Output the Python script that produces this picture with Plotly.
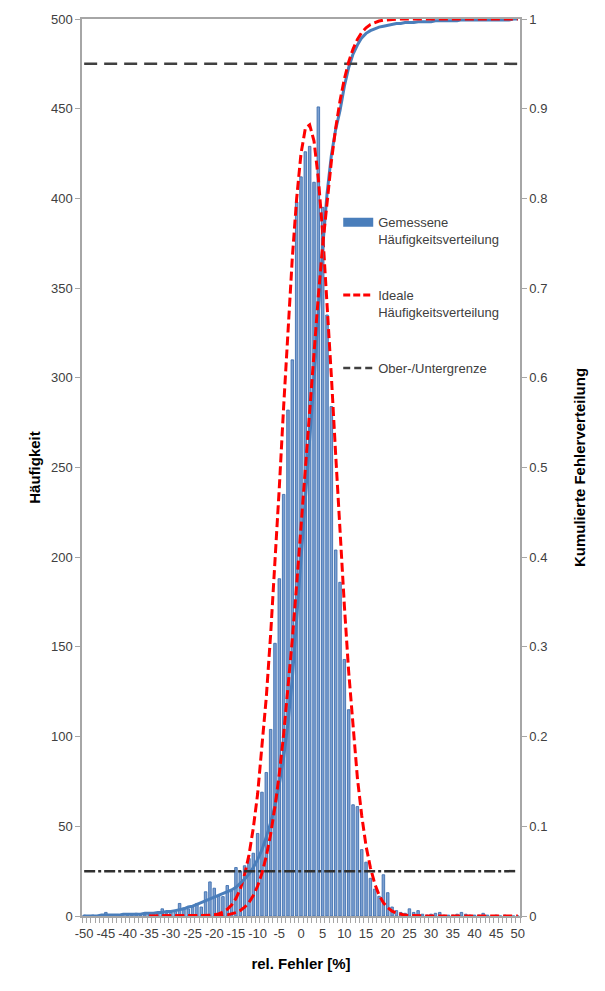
import plotly.graph_objects as go

# ---- data -------------------------------------------------------------
categories = list(range(-50, 51))

# measured frequency (Gemessene Häufigkeitsverteilung), one bar per 1 %
measured = [
    0.5, 0, 0.5, 0, 0.5, 2, 0.5, 0, 0.5, 0,            # -50 .. -41
    0.5, 0.5, 1.5, 0.5, 1, 1, 1, 1.5, 4, 1.5,          # -40 .. -31
    2, 2.5, 7, 4.5, 4, 5, 7, 5, 13.5, 19,              # -30 .. -21
    15.5, 11, 10.8, 17, 14, 27, 25, 28, 32, 35,        # -20 .. -11
    46, 69, 80, 104, 152, 188, 235, 282, 310, 398,     # -10 .. -1
    412, 426, 429, 409, 451, 395, 335, 284, 204, 186,  #   0 .. 9
    143, 115, 62, 61, 37, 30, 21, 15, 11, 23,          #  10 .. 19
    13, 5, 3, 2, 1.5, 4, 2, 3, 1, 0.5,                 #  20 .. 29
    1, 1.5, 2, 0.5, 0.5, 0.5, 1, 2, 1, 0.5,            #  30 .. 39
    0.5, 0.5, 1.5, 0.5, 0, 0.5, 0, 0.5, 0, 0, 0,       #  40 .. 50
]

# ideal frequency (Ideale Häufigkeitsverteilung), drawn from -35 on
ideal = [None] * 15 + [
    0, 0, 0, 0, 0, 0, 0, 0, 0, 0.05,                   # -35 .. -26
    0.05, 0.1, 0.15, 0.2, 0.35, 0.7, 1.2, 2.2, 3.7, 6.1,   # -25 .. -16
    9.8, 15, 23, 34, 49, 68, 93, 122, 157, 197,        # -15 .. -6
    239, 284, 327, 367, 400, 425, 439, 441, 432, 411,  # -5 .. 4
    381, 343, 301, 257, 213, 173, 136, 104, 77, 56,    # 5 .. 14
    39, 27, 18, 11.7, 7.4, 4.6, 2.7, 1.6, 0.9, 0.5,    # 15 .. 24
    0.25, 0.1, 0, 0, 0, 0, 0, 0, 0, 0,                 # 25 .. 34
    0, 0, 0, 0, 0, 0, 0, 0, 0, 0,                      # 35 .. 44
    0, 0, 0, 0, 0, 0,                                  # 45 .. 50
]

# measured cumulative distribution (right axis)
cum_measured = [
    0.000, 0.000, 0.000, 0.000, 0.001, 0.001, 0.001, 0.001, 0.001, 0.002,  # -50 .. -41
    0.002, 0.002, 0.002, 0.002, 0.003, 0.003, 0.003, 0.004, 0.004, 0.005,  # -40 .. -31
    0.005, 0.006, 0.007, 0.008, 0.010, 0.011, 0.013, 0.015, 0.017, 0.019,  # -30 .. -21
    0.021, 0.023, 0.025, 0.027, 0.029, 0.032, 0.036, 0.041, 0.047, 0.054,  # -20 .. -11
    0.063, 0.074, 0.088, 0.104, 0.123, 0.147, 0.177, 0.215, 0.265, 0.330,  # -10 .. -1
    0.400, 0.466, 0.530, 0.598, 0.672, 0.745, 0.805, 0.848, 0.877, 0.898,  #   0 .. 9
    0.925, 0.946, 0.961, 0.971, 0.979, 0.984, 0.987, 0.989, 0.991, 0.992,  #  10 .. 19
    0.993, 0.994, 0.995, 0.995, 0.996, 0.996, 0.996, 0.997, 0.997, 0.997,  #  20 .. 29
    0.997, 0.998, 0.998, 0.998, 0.998, 0.998, 0.998, 0.999, 0.999, 0.999,  #  30 .. 39
    0.999, 0.999, 0.999, 0.999, 0.999, 0.999, 0.999, 0.999, 0.999, 1.0, 1.0,  # 40 .. 50
]

# ideal cumulative distribution (right axis), drawn from -35 on
cum_ideal = [None] * 15 + [
    0, 0, 0, 0, 0, 0, 0, 0, 0, 0,                              # -35 .. -26
    0, 0, 0, 0, 0.0001, 0.0002, 0.0004, 0.0008, 0.0013, 0.0023,  # -25 .. -16
    0.0038, 0.0062, 0.0098, 0.0151, 0.0228, 0.0334, 0.0478, 0.0668, 0.0912, 0.1217,  # -15 .. -6
    0.1587, 0.2023, 0.2525, 0.3085, 0.3694, 0.4338, 0.5, 0.5662, 0.6306, 0.6915,     # -5 .. 4
    0.7475, 0.7977, 0.8413, 0.8783, 0.9088, 0.9332, 0.9522, 0.9666, 0.9772, 0.9849,  # 5 .. 14
    0.9902, 0.9938, 0.9962, 0.9977, 0.9987, 0.9992, 0.9996, 0.9998, 1, 1,            # 15 .. 24
    1, 1, 1, 1, 1, 1, 1, 1, 1, 1,                              # 25 .. 34
    1, 1, 1, 1, 1, 1, 1, 1, 1, 1,                              # 35 .. 44
    1, 1, 1, 1, 1, 1,                                          # 45 .. 50
]

upper_limit = 0.95   # Obergrenze (cumulative)
lower_limit = 0.05   # Untergrenze (cumulative)

x_tick_labels = list(range(-50, 51, 5))
y_left_ticks = list(range(0, 501, 50))
y_right_ticks = [0, 0.1, 0.2, 0.3, 0.4, 0.5, 0.6, 0.7, 0.8, 0.9, 1]

# ---- figure -----------------------------------------------------------
BLUE = "#4a7ebb"
RED = "#ff0000"
GREY = "#404040"
FONT = "Liberation Sans"

fig = go.Figure()

fig.add_trace(go.Bar(
    x=categories, y=measured, yaxis="y",
    marker=dict(color="#7c9fd0", line=dict(color="#3f70b0", width=0.9)),
    showlegend=False, hoverinfo="x+y",
))

fig.add_trace(go.Scatter(
    x=categories, y=cum_measured, yaxis="y2", mode="lines",
    line=dict(color=BLUE, width=3), showlegend=False,
))

fig.add_trace(go.Scatter(
    x=categories, y=[lower_limit] * len(categories), yaxis="y2", mode="lines",
    line=dict(color="#303030", width=2.5, dash="11px,3px,3px,3px"),
    showlegend=False,
))

fig.add_trace(go.Scatter(
    x=categories, y=[upper_limit] * len(categories), yaxis="y2", mode="lines",
    line=dict(color=GREY, width=2.5, dash="13px,7px"),
    showlegend=False,
))

fig.add_trace(go.Scatter(
    x=categories, y=cum_ideal, yaxis="y2", mode="lines",
    line=dict(color=RED, width=3, dash="9px,4px"), showlegend=False,
))

fig.add_trace(go.Scatter(
    x=categories, y=ideal, yaxis="y", mode="lines",
    line=dict(color=RED, width=3, dash="9px,4px"), showlegend=False,
))

# legend entries
fig.add_trace(go.Scatter(
    x=[None], y=[None], mode="lines", line=dict(color=BLUE, width=9),
    name="Gemessene<br>Häufigkeitsverteilung", legendgroup="a",
))
fig.add_trace(go.Scatter(
    x=[None], y=[None], mode="lines", line=dict(color=RED, width=3, dash="7px,3px"),
    name="Ideale<br>Häufigkeitsverteilung", legendgroup="b",
))
fig.add_trace(go.Scatter(
    x=[None], y=[None], mode="lines", line=dict(color=GREY, width=2.5, dash="7px,4px"),
    name="Ober-/Untergrenze", legendgroup="c",
))

axis_font = dict(family=FONT, size=13, color="#404040")
title_font = dict(family=FONT, size=15, color="#000000")

fig.update_layout(
    width=605, height=991,
    margin=dict(l=82, r=85, t=19, b=75),
    paper_bgcolor="white", plot_bgcolor="white",
    bargap=0.42,
    font=dict(family=FONT, size=13, color="#404040"),
    xaxis=dict(
        range=[-50.5, 50.5], tickmode="array", tickvals=x_tick_labels,
        ticktext=[str(v) for v in x_tick_labels],
        ticks="outside", ticklen=5, tickcolor="rgba(0,0,0,0)",
        minor=dict(tickmode="linear", tick0=0.5, dtick=1, ticks="outside",
                   ticklen=5, tickcolor="#a6a6a6", showgrid=False),
        showline=True, linecolor="#a6a6a6", linewidth=1.5, mirror=True,
        showgrid=False, zeroline=False, tickfont=axis_font,
        title=dict(text="<b>rel. Fehler [%]</b>", font=title_font, standoff=18),
    ),
    yaxis=dict(
        range=[0, 500], tickvals=y_left_ticks, ticks="outside", ticklen=5,
        tickcolor="#a6a6a6", showline=True, linecolor="#a6a6a6", linewidth=1.5,
        showgrid=False, zeroline=False, tickfont=axis_font,
        title=dict(text="<b>Häufigkeit</b>", font=title_font, standoff=7),
    ),
    yaxis2=dict(
        range=[0, 1], overlaying="y", side="right", tickvals=y_right_ticks,
        ticktext=[f"{v:g}" for v in y_right_ticks],
        ticks="outside", ticklen=5, tickcolor="#a6a6a6",
        showline=True, linecolor="#a6a6a6", linewidth=1.5,
        showgrid=False, zeroline=False, tickfont=axis_font,
        title=dict(text="<b>Kumulierte Fehlerverteilung</b>", font=title_font, standoff=28),
    ),
    legend=dict(
        x=0.585, y=0.79, xanchor="left", yanchor="top",
        bgcolor="rgba(255,255,255,0)", borderwidth=0,
        font=dict(family=FONT, size=13, color="#404040"),
        tracegroupgap=36, valign="top", itemwidth=30,
    ),
)

fig.write_html("out.html")
